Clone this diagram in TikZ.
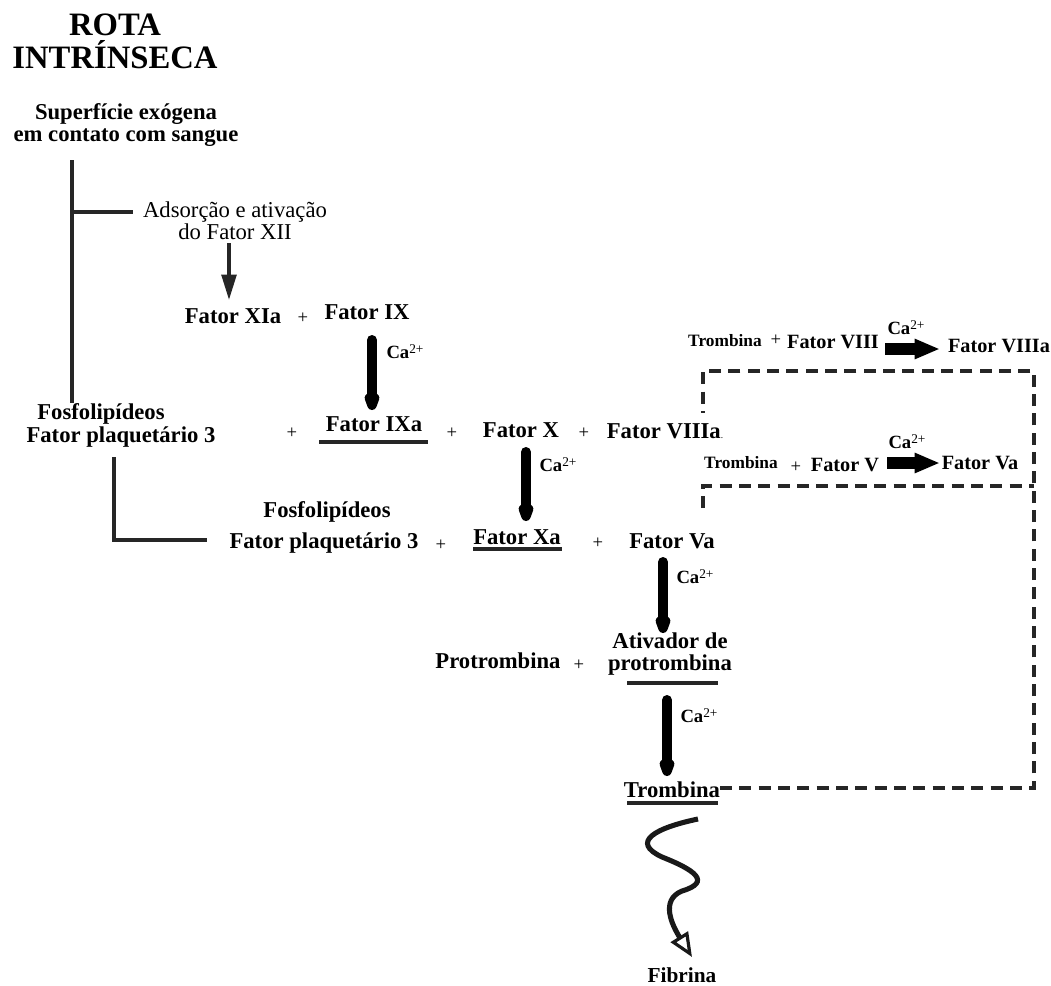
\documentclass[tikz,border=0pt]{standalone}
\usepackage{fontspec}
\setmainfont{Liberation Serif}
\usetikzlibrary{arrows.meta}
\newcommand{\calc}{Ca\raisebox{0.55ex}{\fontsize{10}{10}\selectfont\mdseries 2+}}
\begin{document}
\begin{tikzpicture}[x=0.75pt,y=-0.75pt,
  every node/.style={inner sep=0pt},
  ttl/.style={font=\fontsize{24.5}{24.75}\selectfont\bfseries, align=center},
  lbl/.style={font=\fontsize{17}{15}\selectfont\bfseries, align=center},
  lbl2/.style={font=\fontsize{17}{16}\selectfont\bfseries, align=center},
  lbls/.style={font=\fontsize{17}{16.5}\selectfont\bfseries, align=center},
  lblr/.style={font=\fontsize{15.2}{15}\selectfont\bfseries},
  fibr/.style={font=\fontsize{16}{15}\selectfont\bfseries},
  sm/.style={font=\fontsize{13}{14}\selectfont\bfseries},
  ca/.style={font=\fontsize{14}{14}\selectfont\bfseries},
  pl/.style={font=\fontsize{14}{14}\selectfont},
  ads/.style={font=\fontsize{17}{15}\selectfont, align=center},
  tree/.style={line width=2.6pt, draw=black!85},
  ul/.style={line width=2.3pt, draw=black!85},
  thinarr/.style={line width=2.6pt, draw=black!85, -{Triangle[length=19pt,width=11pt]}},
  bigv/.style={line width=7.5pt, line cap=round, -{Triangle[length=28pt,width=10.5pt,round]}},
  bigh/.style={line width=8.5pt, -{Triangle[length=19pt,width=14pt]}},
  fb/.style={line width=2.3pt, draw=black!85, dash pattern=on 9pt off 5.5pt},
  wavy/.style={line width=3.8pt, draw=black!90, -{Triangle[open,length=18pt,width=15pt,line width=2.4pt]}}
]
\useasboundingbox (0,0) rectangle (1051,986);

% title and start
\node[ttl] (title) at (115,41) {ROTA\\INTRÍNSECA};
\node[lbls] (sup) at (126,125) {Superfície exógena\\em contato com sangue};
\node[ads] (ads) at (235,221) {Adsorção e ativação\\do Fator XII};

% row Fator XIa + Fator IX
\node[lbl] (fxia) at (233,316) {Fator XIa};
\node[pl] (p1) at (303,318) {+};
\node[lbl] (fix) at (367,312) {Fator IX};

% row Fosfolipideos ... Fator VIIIa
\node[lbl] (fos1a) at (101,414) {Fosfolipídeos};
\node[lbl] (fos1b) at (121,437) {Fator plaquetário 3};
\node[pl] (p2) at (292,433) {+};
\node[lbl] (fixa) at (374,424) {Fator IXa};
\node[pl] (p3) at (452,433) {+};
\node[lbl] (fx) at (521,430) {Fator X};
\node[pl] (p4) at (584,433) {+};
\node[lbl] (f8al) at (665,431) {Fator VIIIa{\fontsize{7}{7}\selectfont\mdseries.}};

% row Fator Xa
\node[lbl] (fos2a) at (327,512) {Fosfolipídeos};
\node[lbl] (fos2b) at (324,543) {Fator plaquetário 3};
\node[pl] (p5) at (441,545) {+};
\node[lbl] (fxa) at (517,537) {Fator Xa};
\node[pl] (p6) at (598,543) {+};
\node[lbl] (fva) at (672,541) {Fator Va};

% row protrombina
\node[lbl] (prot) at (498,661) {Protrombina};
\node[pl] (p7) at (579,665) {+};
\node[lbl2] (ativ) at (670,654) {Ativador de\\protrombina};
\node[lbl] (trb) at (672,790) {Trombina};
\node[fibr] (fib) at (682,975) {Fibrina};

% feedback rows
\node[sm] (tr1) at (725,341) {Trombina};
\node[pl] (p8) at (776,340) {+};
\node[lblr] (f8) at (833,342) {Fator VIII};
\node[ca] (ca5) at (906,328) {\calc};
\node[lblr] (f8a) at (999,346) {Fator VIIIa};

\node[sm] (tr2) at (741,463) {Trombina};
\node[pl] (p9) at (796,467) {+};
\node[lblr] (f5) at (845,465) {Fator V};
\node[ca] (ca6) at (907,442) {\calc};
\node[lblr] (f5a) at (980,463) {Fator Va};

% calcium labels
\node[ca] (ca1) at (405,352) {\calc};
\node[ca] (ca2) at (558,465) {\calc};
\node[ca] (ca3) at (695,577) {\calc};
\node[ca] (ca4) at (699,716) {\calc};

% tree lines
\coordinate (br) at (72,212);
\draw[tree] ([shift={(-54,35)}]sup.center) -- ([shift={(-29,-11)}]fos1a.center);
\draw[tree] (br) -- ([shift={(-10,-9)}]ads.west);
\draw[tree] ([shift={(-7,20)}]fos1b.center) |- ([shift={(-22,-3)}]fos2b.west);
\draw[thinarr] ([shift={(-6,22)}]ads.center) -- ([shift={(-4,-16)}]fxia.center);

% underlines
\draw[ul] ([shift={(-55,18)}]fixa.center) -- ([shift={(54,18)}]fixa.center);
\draw[ul] ([shift={(-44,12)}]fxa.center) -- ([shift={(45,12)}]fxa.center);
\draw[ul] ([shift={(-43,29)}]ativ.center) -- ([shift={(48,29)}]ativ.center);
\draw[ul] ([shift={(-45,13)}]trb.center) -- ([shift={(46,13)}]trb.center);

% thick vertical arrows
\draw[bigv] ([shift={(5,28)}]fix.center) -- ([shift={(-2,-14)}]fixa.center);
\draw[bigv] ([shift={(5,22)}]fx.center) -- ([shift={(9,-16)}]fxa.center);
\draw[bigv] ([shift={(-9,21)}]fva.center) -- ([shift={(-7,-21)}]ativ.center);
\draw[bigv] ([shift={(-3,46)}]ativ.center) -- ([shift={(-5,-14)}]trb.center);

% thick horizontal arrows
\draw[bigh] ([shift={(52,7)}]f8.center) -- ([shift={(-59,3)}]f8a.center);
\draw[bigh] ([shift={(42,-2)}]f5.center) -- ([shift={(-40,0)}]f5a.center);

% dashed feedback
\coordinate (R8) at (1034,371);
\coordinate (R5) at (1034,486);
\coordinate (e8) at (703,413);
\coordinate (e5) at (703,508);
\draw[fb] ([shift={(48,-2)}]trb.center) -| (R8) -| (e8);
\draw[fb] (e5) |- (R5);

% wavy arrow to fibrina
\draw[wavy] ([shift={(26,29)}]trb.center)
  .. controls (655,828) and (630,842) .. (662,857)
  .. controls (695,870) and (712,882) .. (682,891)
  .. controls (660,900) and (672,925) .. ([shift={(10,-18)}]fib.center);
\end{tikzpicture}
\end{document}
